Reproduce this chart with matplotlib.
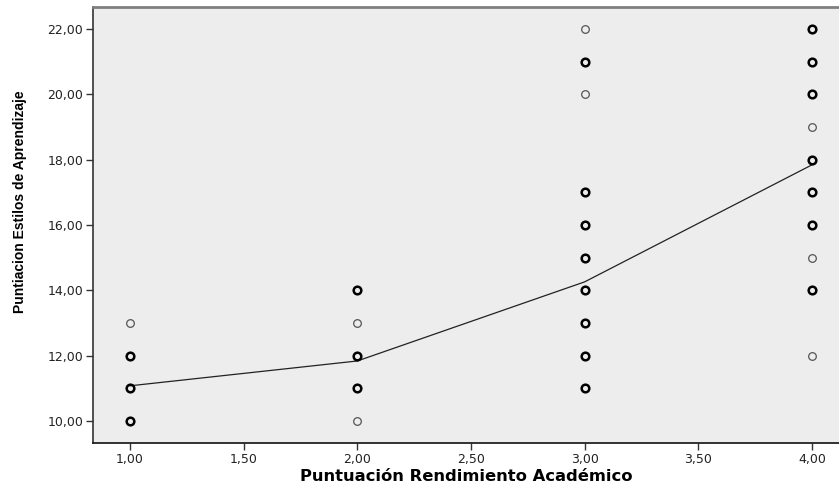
import numpy as np
import matplotlib
matplotlib.use('Agg')
import matplotlib.pyplot as plt
from matplotlib.ticker import FuncFormatter

# Puntuación rendimiento académico vs puntuación estilos de aprendizaje
rend_1 = [1, 1, 1, 1]
est_1 = [13, 12, 11, 10]
rep_1 = [False, True, True, True]

rend_2 = [2, 2, 2, 2, 2]
est_2 = [14, 13, 12, 11, 10]
rep_2 = [True, False, True, True, False]

rend_3 = [3] * 10
est_3 = [22, 21, 20, 17, 16, 15, 14, 13, 12, 11]
rep_3 = [False, True, False, True, True, True, True, True, True, True]

rend_4 = [4] * 10
est_4 = [22, 21, 20, 19, 18, 17, 16, 15, 14, 12]
rep_4 = [True, True, True, False, True, True, True, False, True, False]

# media de estilos por nivel de rendimiento
niveles = [1, 2, 3, 4]
medias = [11.08, 11.84, 14.26, 17.84]

rend = rend_1 + rend_2 + rend_3 + rend_4
est = est_1 + est_2 + est_3 + est_4
rep = rep_1 + rep_2 + rep_3 + rep_4

x = np.array(rend, dtype=float)
y = np.array(est, dtype=float)
rep = np.array(rep)

plt.rcParams['hatch.color'] = '#fbfbfb'
plt.rcParams['hatch.linewidth'] = 0.6

fig = plt.figure(figsize=(8.39, 4.90), dpi=100)
ax = fig.add_axes([93 / 839, 47 / 490, 1 - 93 / 839, 436 / 490])

ax.set_facecolor('#ededed')
ax.patch.set_hatch('.....')

ax.plot(niveles, medias, color='#222222', lw=0.9, zorder=2)

# puntos simples y puntos repetidos (borde más grueso)
ax.plot(x[~rep], y[~rep], 'o', ms=5.5, mfc='none', mec='#555555', mew=0.9, zorder=3)
ax.plot(x[rep], y[rep], 'o', ms=5.5, mfc='none', mec='black', mew=1.8, zorder=3)

ax.set_xlim(0.837, 4.119)
ax.set_ylim(9.33, 22.67)
ax.set_xticks([1.0, 1.5, 2.0, 2.5, 3.0, 3.5, 4.0])
ax.set_yticks([10, 12, 14, 16, 18, 20, 22])

coma = FuncFormatter(lambda v, p: f'{v:.2f}'.replace('.', ','))
ax.xaxis.set_major_formatter(coma)
ax.yaxis.set_major_formatter(coma)

ax.tick_params(axis='both', direction='out', length=5, width=1, color='#333333',
               labelsize=9, labelcolor='#222222', pad=2)
for lab in ax.get_xticklabels() + ax.get_yticklabels():
    lab.set_family('DejaVu Sans')

ax.spines['right'].set_visible(False)
ax.spines['top'].set_color('#808080')
ax.spines['top'].set_linewidth(2)
ax.spines['left'].set_color('#333333')
ax.spines['left'].set_linewidth(1.2)
ax.spines['bottom'].set_color('#111111')
ax.spines['bottom'].set_linewidth(1.2)

ax.set_xlabel('Puntuación Rendimiento Académico', fontsize=11.8, fontweight='bold',
              family='DejaVu Sans', labelpad=2)
ax.set_ylabel('Puntiacion Estilos de Aprendizaje', fontsize=10, fontweight='bold',
              family=['Liberation Sans Narrow', 'Liberation Sans'])
ax.yaxis.set_label_coords(-0.088, 0.553)

fig.savefig('out.png', dpi=100)
